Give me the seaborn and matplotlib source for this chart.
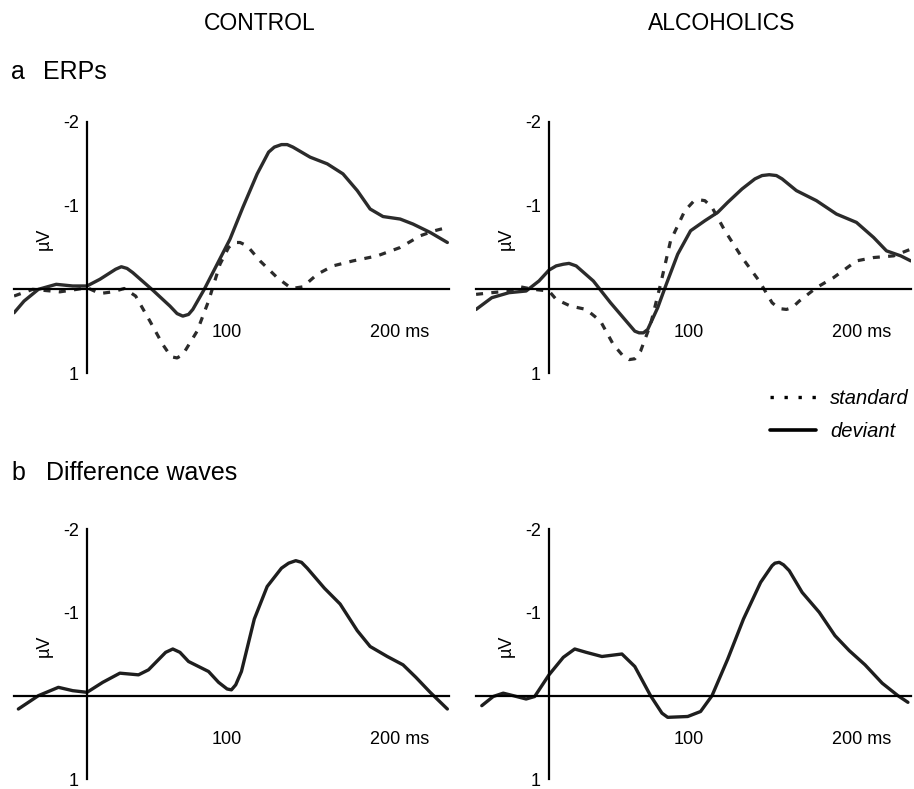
import numpy as np
import pandas as pd
import matplotlib
matplotlib.use("Agg")
import matplotlib.pyplot as plt
import seaborn as sns
from matplotlib.lines import Line2D

# ---------------- data (ms, µV) ----------------
ctl_dev_t = [-51, -44, -34, -21.5, -10, 0, 9, 20, 24, 28, 32, 46, 58, 63, 67, 71, 74, 82, 91,
             100, 109, 119, 127, 131, 136, 140, 144, 156, 168, 179, 189, 198, 207, 219, 228,
             240, 252]
ctl_dev_v = [0.28, 0.14, 0.0, -0.06, -0.04, -0.04, -0.12, -0.24, -0.27, -0.25, -0.2, 0.01, 0.2,
             0.29, 0.32, 0.3, 0.24, 0.0, -0.3, -0.6, -0.98, -1.38, -1.64, -1.7, -1.73, -1.73,
             -1.7, -1.58, -1.5, -1.38, -1.18, -0.96, -0.87, -0.84, -0.78, -0.68, -0.56]
ctl_std_t = [-51, -38, -19, -7, 0, 9, 18, 26, 34, 44, 53, 57, 60, 63, 67, 77, 85, 93, 99, 103,
             107, 112, 121, 133, 143, 151, 161, 172, 186, 203, 219, 233, 243, 252]
ctl_std_v = [0.08, 0.0, 0.03, 0.0, -0.02, 0.05, 0.03, -0.01, 0.08, 0.38, 0.66, 0.76, 0.81, 0.82,
             0.78, 0.5, 0.14, -0.3, -0.5, -0.56, -0.56, -0.52, -0.34, -0.14, -0.01, -0.03,
             -0.18, -0.28, -0.34, -0.4, -0.5, -0.64, -0.7, -0.74]
alc_dev_t = [-51, -40, -28, -16, -7, 0, 5, 10, 14, 19, 31, 43, 55, 60, 63, 66, 69, 76, 82, 90,
             99, 109, 118, 125, 135, 144, 149, 154, 159, 163, 173, 187, 201, 215, 227, 236,
             246, 253]
alc_dev_v = [0.24, 0.1, 0.04, 0.02, -0.1, -0.23, -0.28, -0.3, -0.31, -0.28, -0.1, 0.16, 0.4,
             0.5, 0.52, 0.52, 0.48, 0.22, -0.06, -0.42, -0.7, -0.82, -0.92, -1.04, -1.2, -1.32,
             -1.36, -1.37, -1.36, -1.32, -1.18, -1.06, -0.9, -0.8, -0.62, -0.46, -0.4, -0.34]
alc_std_t = [-51, -40, -28, -20, -11, 0, 5, 15, 26, 36, 45, 52, 56, 60, 64, 71, 78, 85, 95, 101,
             105, 109, 114, 123, 135, 147, 156, 161, 166, 170, 175, 187, 199, 215, 227, 241, 253]
alc_std_v = [0.06, 0.04, 0.02, -0.03, 0.0, 0.02, 0.12, 0.2, 0.24, 0.38, 0.66, 0.8, 0.84, 0.83,
             0.74, 0.42, -0.06, -0.58, -0.94, -1.05, -1.07, -1.06, -0.98, -0.7, -0.38, -0.1,
             0.16, 0.23, 0.24, 0.22, 0.14, -0.02, -0.14, -0.34, -0.38, -0.4, -0.48]
ctl_diff_t = [-48, -34, -20, -10, 0, 11, 23, 36, 43, 55, 60, 65, 71, 85, 92, 98, 101, 104, 108,
              117, 126, 136, 141, 146, 150, 154, 166, 177, 189, 198, 210, 221, 230, 240, 252]
ctl_diff_v = [0.16, 0.0, -0.1, -0.06, -0.04, -0.16, -0.27, -0.25, -0.31, -0.52, -0.56, -0.52,
              -0.41, -0.29, -0.16, -0.08, -0.07, -0.13, -0.29, -0.92, -1.31, -1.53, -1.59,
              -1.62, -1.6, -1.53, -1.29, -1.1, -0.78, -0.59, -0.47, -0.37, -0.22, -0.04, 0.16]
alc_diff_t = [-47, -39, -32, -25, -16, -10, 0, 10, 18, 26, 37, 51, 60, 71, 79, 83, 97, 106,
              114, 125, 136, 148, 156, 158, 161, 164, 168, 177, 189, 200, 210, 221, 233, 244, 251]
alc_diff_v = [0.12, 0.01, -0.03, 0.0, 0.04, 0.01, -0.25, -0.46, -0.56, -0.52, -0.47, -0.5,
              -0.35, 0.0, 0.21, 0.26, 0.25, 0.19, 0.0, -0.44, -0.92, -1.36, -1.56, -1.59, -1.6,
              -1.57, -1.5, -1.24, -1.0, -0.72, -0.54, -0.37, -0.15, 0.0, 0.08]

y_ticks = [-2, -1, 1]
x_ticks = [50, 100, 150, 200]
x_labels = {100: "100", 200: "200 ms"}
group_titles = ["CONTROL", "ALCOHOLICS"]

# ---------------- figure ----------------
sns.set_theme(style="white")
plt.rcParams["font.family"] = ["Liberation Sans", "DejaVu Sans"]
plt.rcParams["text.color"] = "black"

W, H = 914, 789
fig = plt.figure(figsize=(W / 100, H / 100), dpi=100)

LINE = "#2b2b2b"
XLIM = (-51, 253)


def make_ax(left_px, top_px, bottom_px, width_px):
    return fig.add_axes([left_px / W, 1 - bottom_px / H, width_px / W, (bottom_px - top_px) / H])


def style_ax(ax):
    ax.set_xlim(*XLIM)
    ax.set_ylim(1, -2)
    for s in ["top", "right"]:
        ax.spines[s].set_visible(False)
    ax.spines["left"].set_position(("data", 0))
    ax.spines["bottom"].set_position(("data", 0))
    ax.spines["left"].set_bounds(-2, 1)
    for s in ["left", "bottom"]:
        ax.spines[s].set_color("black")
        ax.spines[s].set_linewidth(1.6)
    ax.set_yticks(y_ticks)
    ax.set_yticklabels([str(v) for v in y_ticks], fontsize=13, color="black")
    ax.tick_params(axis="y", direction="in", length=5, width=1.5, pad=6, colors="black")
    ax.set_xticks(x_ticks)
    ax.set_xticklabels([])
    ax.tick_params(axis="x", direction="inout", length=7, width=1.3, colors="black")
    for xv, lab in x_labels.items():
        ax.text(xv - 2, 0.52, lab, ha="center" if lab == "100" else "left",
                va="center", fontsize=13, color="black")
    ax.text(-30, -0.6, "µV", rotation=90, ha="center", va="center", fontsize=13, color="black")
    ax.set_xlabel("")
    ax.set_ylabel("")
    ax.patch.set_alpha(0)
    ax.grid(False)


def frame(t, v, cond):
    return pd.DataFrame({"time": t, "amp": v, "cond": cond})


# panel geometry (pixels)
lefts = [87 - 51 * 1.43, 549 - 51 * 1.43]
width = 304 * 1.43
rows = [(122, 373), (529, 779)]

erp_data = [
    pd.concat([frame(ctl_std_t, ctl_std_v, "standard"), frame(ctl_dev_t, ctl_dev_v, "deviant")]),
    pd.concat([frame(alc_std_t, alc_std_v, "standard"), frame(alc_dev_t, alc_dev_v, "deviant")]),
]
diff_data = [frame(ctl_diff_t, ctl_diff_v, "diff"), frame(alc_diff_t, alc_diff_v, "diff")]

for i in range(2):
    ax = make_ax(lefts[i], rows[0][0], rows[0][1], width)
    d = erp_data[i]
    sns.lineplot(data=d[d.cond == "standard"], x="time", y="amp", ax=ax, sort=False,
                 estimator=None, color=LINE, lw=2.3, linestyle=(0, (2.2, 2.6)), legend=False)
    sns.lineplot(data=d[d.cond == "deviant"], x="time", y="amp", ax=ax, sort=False,
                 estimator=None, color=LINE, lw=2.4, legend=False)
    for ln in ax.lines:
        ln.set_solid_joinstyle("round")
        ln.set_dash_joinstyle("round")
    style_ax(ax)

for i in range(2):
    ax = make_ax(lefts[i], rows[1][0], rows[1][1], width)
    sns.lineplot(data=diff_data[i], x="time", y="amp", ax=ax, sort=False,
                 estimator=None, color="#1e1e1e", lw=2.4, legend=False)
    for ln in ax.lines:
        ln.set_solid_joinstyle("round")
    style_ax(ax)

# titles / headings
fig.text(260 / W, 1 - 23 / H, group_titles[0], ha="center", va="center", fontsize=16.5)
fig.text(722 / W, 1 - 23 / H, group_titles[1], ha="center", va="center", fontsize=16.5)
fig.text(11 / W, 1 - 72 / H, "a", ha="left", va="center", fontsize=18)
fig.text(43 / W, 1 - 72 / H, "ERPs", ha="left", va="center", fontsize=18)
fig.text(11 / W, 1 - 473 / H, "b", ha="left", va="center", fontsize=18)
fig.text(46 / W, 1 - 473 / H, "Difference waves", ha="left", va="center", fontsize=18)

# legend
handles = [Line2D([], [], color="black", lw=2.4, linestyle=(0, (1.0, 3.2))),
           Line2D([], [], color="black", lw=2.6)]
leg = fig.legend(handles, ["standard", "deviant"], loc="upper left",
                 bbox_to_anchor=(770 / W, 1 - 389 / H), frameon=False,
                 prop={"style": "italic", "size": 14.5, "family": "Liberation Sans"},
                 handlelength=2.3, handletextpad=0.7, labelspacing=0.7, borderaxespad=0,
                 borderpad=0)
for t in leg.get_texts():
    t.set_color("black")

fig.savefig("out.png", dpi=100)
